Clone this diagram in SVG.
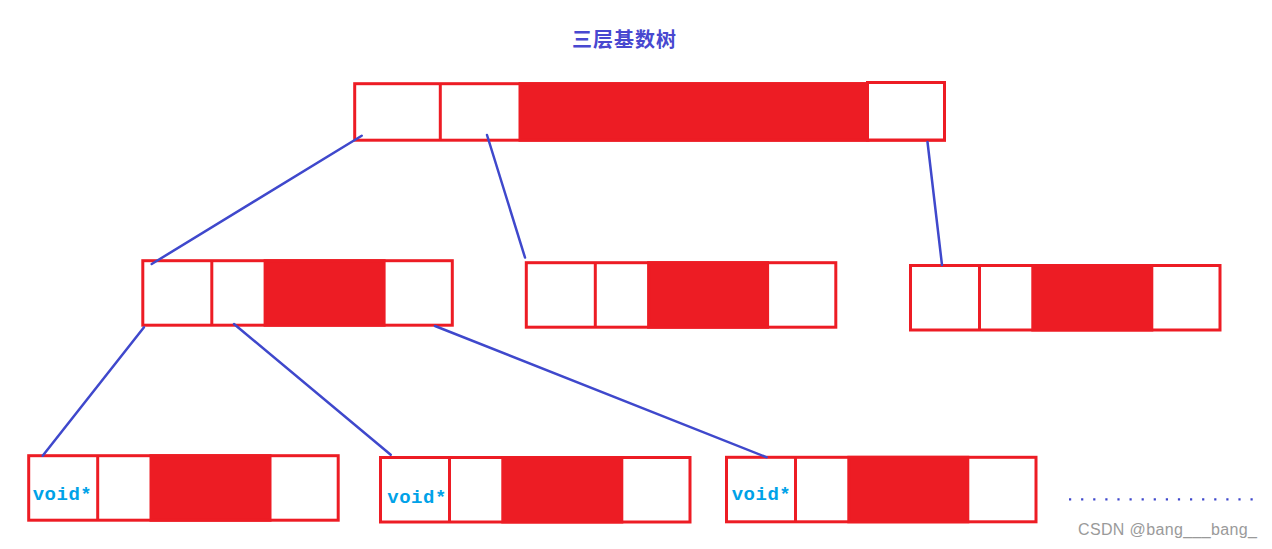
<svg xmlns="http://www.w3.org/2000/svg" width="1272" height="549" viewBox="0 0 1272 549">
<style>
.box{fill:#fff;stroke:#ED1C24;stroke-width:3}
.div{stroke:#ED1C24;stroke-width:3}
.red{fill:#ED1C24;stroke:#ED1C24;stroke-width:3}
.conn line{stroke:#3F48CC;stroke-width:2.5;stroke-linecap:round}
.vp{font-family:"Liberation Mono","DejaVu Sans Mono",monospace;font-size:19px;font-weight:bold;fill:#00A2E8}
.title{font-family:"Noto Sans CJK SC",sans-serif;font-size:20px;font-weight:bold;fill:#4848D0}
.wm{font-family:"Liberation Sans",Arial,sans-serif;font-size:16px;fill:#9a9a9a}
</style>
<defs>
<g id="cell">
<rect class="box" x="0" y="0" width="309.5" height="64.5"/>
<line class="div" x1="69" y1="0" x2="69" y2="64.5"/>
<rect class="red" x="122.3" y="0" width="119" height="64.5"/>
</g>
</defs>
<rect width="1272" height="549" fill="#fff"/>
<text class="title" x="572" y="47" textLength="104">三层基数树</text>

<g id="root">
<rect class="box" x="354.7" y="83.7" width="589.8" height="56.5"/>
<line class="div" x1="440.3" y1="83.7" x2="440.3" y2="140.2"/>
<rect class="red" x="520" y="83.7" width="348" height="56.5"/>
<rect class="box" x="867.5" y="82.5" width="77" height="57.5"/>
</g>

<g id="mid1" transform="translate(142.8,260.7)"><use href="#cell"/></g>
<g id="mid2" transform="translate(526.3,262.7)"><use href="#cell"/></g>
<g id="mid3" transform="translate(910.5,265.5)"><use href="#cell"/></g>

<g id="leaf1" transform="translate(28.7,455.7)"><use href="#cell"/><text class="vp" x="4" y="44.3" textLength="59">void*</text></g>
<g id="leaf2" transform="translate(380.5,457.5)"><use href="#cell"/><text class="vp" x="6.8" y="45" textLength="59">void*</text></g>
<g id="leaf3" transform="translate(726.5,457.3)"><use href="#cell"/><text class="vp" x="5.2" y="42.5" textLength="59">void*</text></g>

<g id="connectors" class="conn">
<line x1="361.7" y1="135.7" x2="151.7" y2="264"/>
<line x1="487" y1="135" x2="525" y2="257.5"/>
<line x1="927.5" y1="142" x2="942" y2="265"/>
<line x1="144" y1="327.3" x2="42.7" y2="455.7"/>
<line x1="234" y1="324" x2="390.7" y2="454.7"/>
<line x1="435" y1="326" x2="766.7" y2="457.3"/>
</g>

<line id="more" x1="1069" y1="499.3" x2="1253" y2="499.3" stroke="#3F48CC" stroke-width="2.2" stroke-dasharray="2.2 9.9"/>

<text class="wm" x="1078" y="535" textLength="179">CSDN @bang___bang_</text>
</svg>
